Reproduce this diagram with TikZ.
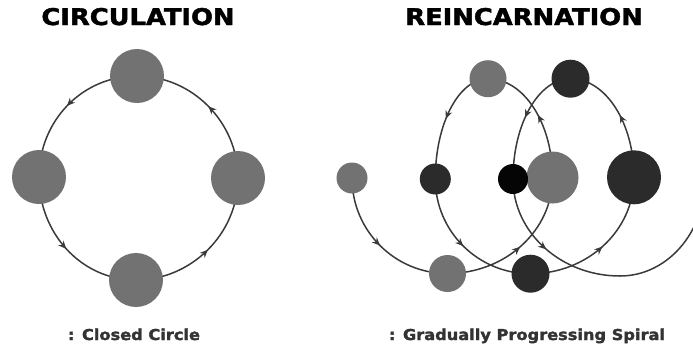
\documentclass[tikz,border=0pt]{standalone}
\usepackage{fontspec}
\setmainfont{DejaVu Sans}
\newfontfamily\heavyfont{DejaVu Sans}[UprightFont=* Bold, FakeBold=1.8]
\usetikzlibrary{arrows.meta,decorations.markings,backgrounds}
\definecolor{ballgray}{HTML}{727272}
\definecolor{balldark}{HTML}{2B2B2B}
\definecolor{ballblack}{HTML}{050505}
\definecolor{linegray}{HTML}{3A3A3A}

\begin{document}
\begin{tikzpicture}[
  x=1pt, y=-1pt,
  ball/.style={circle, inner sep=0pt, minimum size=#1},
  lightball/.style={ball=#1, fill=ballgray},
  darkball/.style={ball=#1, fill=balldark},
  blackball/.style={ball=#1, fill=ballblack},
  title/.style={font=\fontsize{23}{23}\heavyfont, anchor=base},
  caption/.style={font=\fontsize{15}{15}\heavyfont, text=black!80, anchor=base},
  trail/.style={draw=linegray, line width=1.5pt},
  flow/.style={trail, postaction={decorate},
    decoration={markings, mark=at position 0.5 with {\arrow{Stealth[length=8pt,width=7pt]}}}}
]
\useasboundingbox (0,0) rectangle (693,346);

% circulation
\node[title] (ctitle) at (138,25) {\scalebox{1.12}[1]{CIRCULATION}};
\node[lightball=54pt] (ctop) at (137,76) {};
\node[lightball=54pt] (cleft) at (39,177) {};
\node[lightball=54pt] (cbottom) at (136,280) {};
\node[lightball=54pt] (cright) at (238,178) {};
\node[caption] (ccap) at (134,340) {\scalebox{1.08}[1]{: Closed Circle}};

% reincarnation
\node[title] (rtitle) at (524,25) {\scalebox{1.12}[1]{REINCARNATION}};
\node[lightball=31pt] (s1) at (352,178) {};
\node[lightball=37pt] (s2) at (447.5,273.5) {};
\node[lightball=52pt] (s3) at (552.5,177.5) {};
\node[lightball=37pt] (s4) at (488,78.7) {};
\node[darkball=31pt] (s5) at (435.3,179) {};
\node[darkball=38pt] (s6) at (530.5,273.7) {};
\node[darkball=54pt] (s7) at (634,177.3) {};
\node[darkball=38pt] (s8) at (570.5,78.7) {};
\node[blackball=30pt] (s9) at (513,179) {};
\coordinate (low) at (620,276);
\coordinate (exit) at (705,179);
\node[caption] (rcap) at (527,340) {\scalebox{1.08}[1]{: Gradually Progressing Spiral}};

\begin{scope}[on background layer]
\clip (0,0) rectangle (693,346);
\draw[flow] (ctop.center) .. controls +(-55,0) and +(0,-56) .. (cleft.center);
\draw[flow] (cleft.center) .. controls +(0,56) and +(-55,0) .. (cbottom.center);
\draw[flow] (cbottom.center) .. controls +(55,0) and +(0,56) .. (cright.center);
\draw[flow] (cright.center) .. controls +(0,-56) and +(55,0) .. (ctop.center);

\draw[flow] (s1.center) .. controls +(0,52.7) and +(-52.7,0) .. (s2.center);
\draw[flow] (s2.center) .. controls +(58,0) and +(0,53) .. (s3.center);
\draw[flow] (s3.center) .. controls +(0,-54.6) and +(35.6,0) .. (s4.center);
\draw[flow] (s4.center) .. controls +(-29.1,0) and +(0,-55.4) .. (s5.center);
\draw[flow] (s5.center) .. controls +(0,52.3) and +(-52.6,0) .. (s6.center);
\draw[flow] (s6.center) .. controls +(57.2,0) and +(0,53.2) .. (s7.center);
\draw[flow] (s7.center) .. controls +(0,-54.5) and +(35.1,0) .. (s8.center);
\draw[flow] (s8.center) .. controls +(-31.8,0) and +(0,-55.4) .. (s9.center);
\draw[flow] (s9.center) .. controls +(0,53.6) and +(-59.1,0) .. (low);
\draw[trail] (low) .. controls +(47,0) and +(0,53.6) .. (exit);
\end{scope}
\end{tikzpicture}
\end{document}
